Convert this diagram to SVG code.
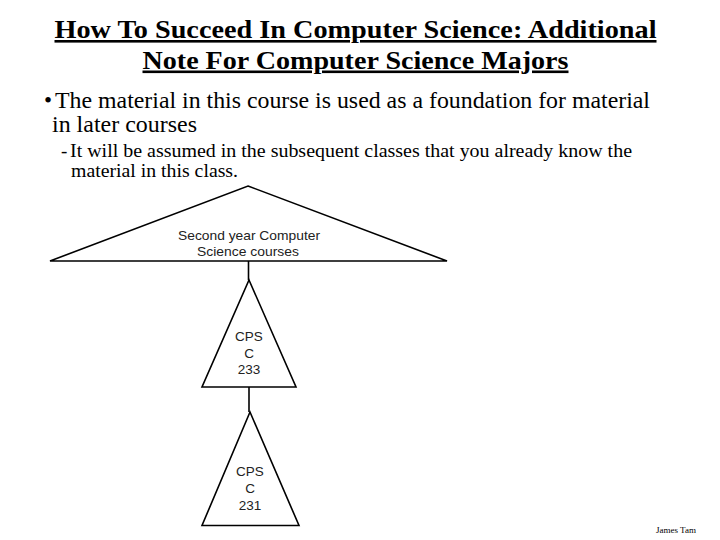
<svg xmlns="http://www.w3.org/2000/svg" width="720" height="540" viewBox="0 0 720 540">
<style>
.t{font-family:"Liberation Serif","Times New Roman",serif;fill:#000}
.h{font-size:26px;font-weight:bold;text-anchor:middle;text-decoration:underline}
.s{font-family:"Liberation Sans",Arial,sans-serif;font-size:13.5px;fill:#222;text-anchor:middle}
.c{fill:none;stroke:#000;stroke-width:1.6}
</style>
<rect width="720" height="540" fill="#fff"/>
<text class="t h" x="355.500" y="38" textLength="602" lengthAdjust="spacingAndGlyphs">How To Succeed In Computer Science: Additional</text>
<text class="t h" x="355.500" y="68.500" textLength="426" lengthAdjust="spacingAndGlyphs">Note For Computer Science Majors</text>
<text class="t" x="44" y="108" font-size="23">•</text>
<text class="t" x="55" y="108" font-size="23" textLength="595" lengthAdjust="spacingAndGlyphs">The material in this course is used as a foundation for material</text>
<text class="t" x="52" y="131.500" font-size="23" textLength="145" lengthAdjust="spacingAndGlyphs">in later courses</text>
<text class="t" x="61" y="156.500" font-size="19">-</text>
<text class="t" x="70" y="156.500" font-size="19" textLength="562" lengthAdjust="spacingAndGlyphs">It will be assumed in the subsequent classes that you already know the</text>
<text class="t" x="71" y="176.500" font-size="19" textLength="167" lengthAdjust="spacingAndGlyphs">material in this class.</text>
<g id="connectors">
<path class="c" d="M248.500 261V280"/>
<path class="c" d="M249 387V412"/>
</g>
<g id="node-second-year">
<path class="c" d="M248 186L447 261H50Z"/>
<text class="s" x="249" y="240" textLength="142" lengthAdjust="spacingAndGlyphs">Second year Computer</text>
<text class="s" x="248" y="256" textLength="102" lengthAdjust="spacingAndGlyphs">Science courses</text>
</g>
<g id="node-233">
<path class="c" d="M249 280L296 387H202Z"/>
<text class="s" x="249" y="341">CPS</text>
<text class="s" x="249" y="358">C</text>
<text class="s" x="249" y="374">233</text>
</g>
<g id="node-231">
<path class="c" d="M250 412L299 525.500H202Z"/>
<text class="s" x="250" y="476">CPS</text>
<text class="s" x="250" y="493">C</text>
<text class="s" x="250" y="510">231</text>
</g>
<text class="t" x="656" y="533" font-size="9" textLength="40" lengthAdjust="spacingAndGlyphs">James Tam</text>
</svg>
